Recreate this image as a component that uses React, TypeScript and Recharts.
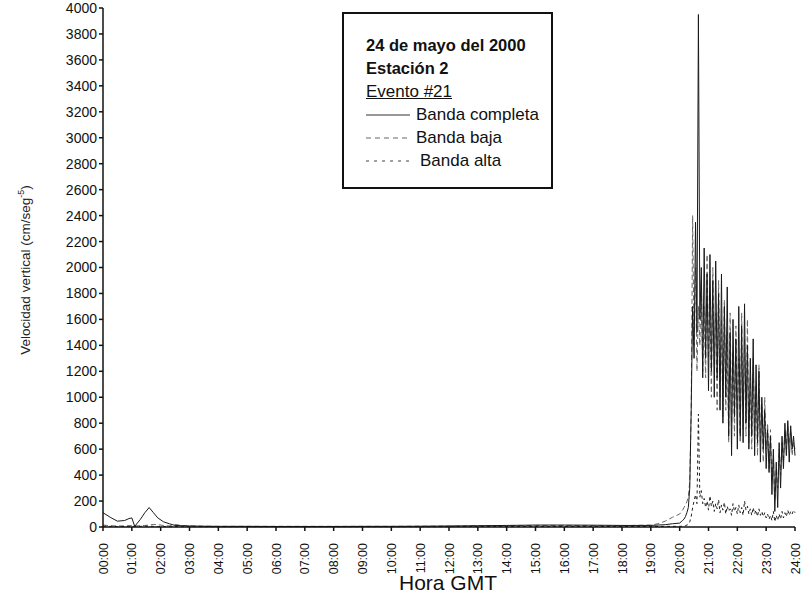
import React from "react";
import { LineChart, Line, XAxis, YAxis } from "recharts";

// quiet part of the day, coarse sampling (hours GMT)
const quietHours = [
  0, 0.25, 0.5, 0.75, 0.9, 1.0, 1.1, 1.3, 1.45, 1.6, 1.75, 1.9, 2.1, 2.3, 2.5,
  2.75, 3, 3.5, 4, 5, 6, 7, 8, 9, 10, 11, 12, 13, 14, 15, 16, 17, 18, 19,
  19.25, 19.5, 19.75,
];
const quietCompleta = [
  110, 75, 45, 50, 65, 70, 5, 60, 110, 150, 110, 70, 40, 25, 12, 10, 8, 6, 5,
  5, 4, 4, 4, 5, 5, 6, 8, 10, 12, 15, 15, 14, 12, 12, 15, 18, 25,
];
const quietBaja = [
  15, 10, 8, 8, 10, 10, 8, 10, 12, 15, 20, 18, 12, 8, 20, 10, 8, 6, 5, 5, 5, 5,
  5, 5, 5, 6, 6, 8, 10, 12, 12, 10, 10, 15, 25, 45, 75,
];
const quietAlta = [
  6, 5, 4, 4, 5, 5, 4, 5, 6, 6, 5, 4, 4, 3, 3, 3, 3, 3, 3, 3, 3, 3, 3, 3, 3, 3,
  3, 4, 4, 4, 4, 4, 4, 4, 4, 5, 5,
];

// event #21, sampled every 3 minutes from 20:00 to 24:00
const activeHours = Array.from({ length: 81 }, (_, i) => 20 + i * 0.05);
const activeCompleta = [
  30, 40, 50, 60, 80, 110, 150, 300, 900, 1700, 1300, 2350, 1500, 3950, 1600,
  2000, 1150, 2150, 1300, 1950, 1050, 2100, 1200, 1900, 1000, 2050, 1150, 1800,
  900, 1950, 800, 1700, 1000, 1850, 700, 1500, 550, 1600, 850, 1450, 600, 1700,
  700, 1550, 650, 1720, 800, 1400, 600, 1300, 700, 1450, 550, 1250, 650, 1200,
  500, 1000, 600, 900, 450, 750, 420, 700, 250, 600, 120, 500, 150, 650, 300,
  700, 450, 800, 550, 820, 500, 780, 600, 700, 550,
];
const activeBaja = [
  100, 115, 130, 150, 170, 195, 230, 350, 900, 2400, 1400, 2000, 1200, 1700,
  1400, 1900, 1200, 1700, 1150, 2100, 1300, 1750, 1000, 2000, 1250, 1650, 900,
  1900, 1000, 1600, 850, 1750, 900, 1500, 650, 1650, 800, 1350, 700, 1550, 900,
  1300, 650, 1650, 750, 1450, 700, 1600, 650, 1150, 600, 1300, 700, 1100, 550,
  1250, 650, 950, 500, 1000, 600, 800, 450, 750, 350, 550, 200, 450, 300, 600,
  400, 650, 500, 750, 600, 800, 650, 750, 550, 650, 600,
];
const activeAlta = [
  5, 5, 8, 10, 10, 15, 20, 40, 80, 150, 200, 250, 180, 870, 230, 280, 180, 220,
  150, 200, 130, 240, 160, 200, 120, 180, 140, 210, 110, 170, 130, 190, 100,
  160, 120, 140, 90, 180, 120, 150, 100, 170, 110, 150, 90, 200, 130, 160, 100,
  140, 90, 150, 100, 130, 80, 140, 90, 120, 80, 110, 70, 100, 60, 90, 50, 120,
  40, 90, 50, 100, 60, 120, 70, 110, 80, 130, 90, 120, 100, 130, 110,
];

const hourTicks = [
  0, 1, 2, 3, 4, 5, 6, 7, 8, 9, 10, 11, 12, 13, 14, 15, 16, 17, 18, 19, 20, 21,
  22, 23, 24,
];
const velocityTicks = [
  0, 200, 400, 600, 800, 1000, 1200, 1400, 1600, 1800, 2000, 2200, 2400, 2600,
  2800, 3000, 3200, 3400, 3600, 3800, 4000,
];

function toSeries(hours: number[], values: number[]) {
  return hours.map((h, i) => ({ h, v: values[i] }));
}

const completa = [
  ...toSeries(quietHours, quietCompleta),
  ...toSeries(activeHours, activeCompleta),
];
const baja = [
  ...toSeries(quietHours, quietBaja),
  ...toSeries(activeHours, activeBaja),
];
const alta = [
  ...toSeries(quietHours, quietAlta),
  ...toSeries(activeHours, activeAlta),
];

const FONT = "'Liberation Sans', Arial, sans-serif";

function HourTick({ x, y, payload }: any) {
  const label = `${String(payload.value).padStart(2, "0")}:00`;
  return (
    <text
      transform={`translate(${x + 4.5},${y + 10}) rotate(-90)`}
      textAnchor="end"
      fontSize={12.5}
      fontFamily={FONT}
      fill="#111"
    >
      {label}
    </text>
  );
}

function LegendBox() {
  const sample = (dash?: string, color = "#222") => (
    <svg width={44} height={10} style={{ marginRight: 6 }}>
      <line x1={0} y1={5} x2={44} y2={5} stroke={color} strokeWidth={1} strokeDasharray={dash} />
    </svg>
  );
  const row: React.CSSProperties = { display: "flex", alignItems: "center", height: 23, fontSize: 17 };
  return (
    <div
      style={{
        position: "absolute",
        left: 342,
        top: 12,
        width: 211,
        height: 177,
        border: "2px solid #111",
        background: "#fff",
        fontFamily: FONT,
        color: "#111",
        padding: "20px 0 0 22px",
        boxSizing: "border-box",
        lineHeight: "23px",
      }}
    >
      <div style={{ fontWeight: "bold", fontSize: 16.5, height: 23 }}>24 de mayo del 2000</div>
      <div style={{ fontWeight: "bold", fontSize: 16.5, height: 23 }}>Estación 2</div>
      <div style={{ fontSize: 17, height: 23, textDecoration: "underline" }}>Evento #21</div>
      <div style={row}>{sample(undefined, "#333")}Banda completa</div>
      <div style={row}>{sample("5 4", "#666")}Banda baja</div>
      <div style={row}>
        {sample("3 5", "#444")}
        <span style={{ marginLeft: 4 }}>Banda alta</span>
      </div>
    </div>
  );
}

export default function App() {
  return (
    <div style={{ position: "absolute", left: 0, top: 0, width: 806, height: 600, background: "#fff" }}>
      <LineChart width={806} height={600} margin={{ top: 8, right: 11, bottom: 0, left: 0 }}>
        <XAxis
          type="number"
          dataKey="h"
          domain={[0, 24]}
          ticks={hourTicks}
          interval={0}
          height={73}
          tick={<HourTick />}
          tickSize={4}
          stroke="#111"
          strokeWidth={1.5}
          allowDuplicatedCategory={false}
          label={{
            content: () => (
              <text x={448} y={590} textAnchor="middle" fontSize={21} fontFamily={FONT} fill="#111">
                Hora GMT
              </text>
            ),
          }}
        />
        <YAxis
          type="number"
          dataKey="v"
          domain={[0, 4000]}
          ticks={velocityTicks}
          interval={0}
          width={103}
          tickSize={4}
          stroke="#111"
          strokeWidth={1.5}
          tick={{ fontSize: 14, fontFamily: FONT, fill: "#111" }}
          label={{
            content: () => (
              <text
                transform="translate(30,270) rotate(-90)"
                textAnchor="middle"
                fontSize={13.5}
                fontFamily={FONT}
                fill="#222"
              >
                Velocidad vertical (cm/seg
                <tspan dy={-6} fontSize={9}>-5</tspan>
                <tspan dy={6}>)</tspan>
              </text>
            ),
          }}
        />
        <Line data={baja} dataKey="v" type="linear" stroke="#666" strokeWidth={1} strokeDasharray="5 3" dot={false} isAnimationActive={false} />
        <Line data={completa} dataKey="v" type="linear" stroke="#1a1a1a" strokeWidth={1} dot={false} isAnimationActive={false} />
        <Line data={alta} dataKey="v" type="linear" stroke="#222" strokeWidth={1} strokeDasharray="3 3" dot={false} isAnimationActive={false} />
      </LineChart>
      <LegendBox />
    </div>
  );
}
